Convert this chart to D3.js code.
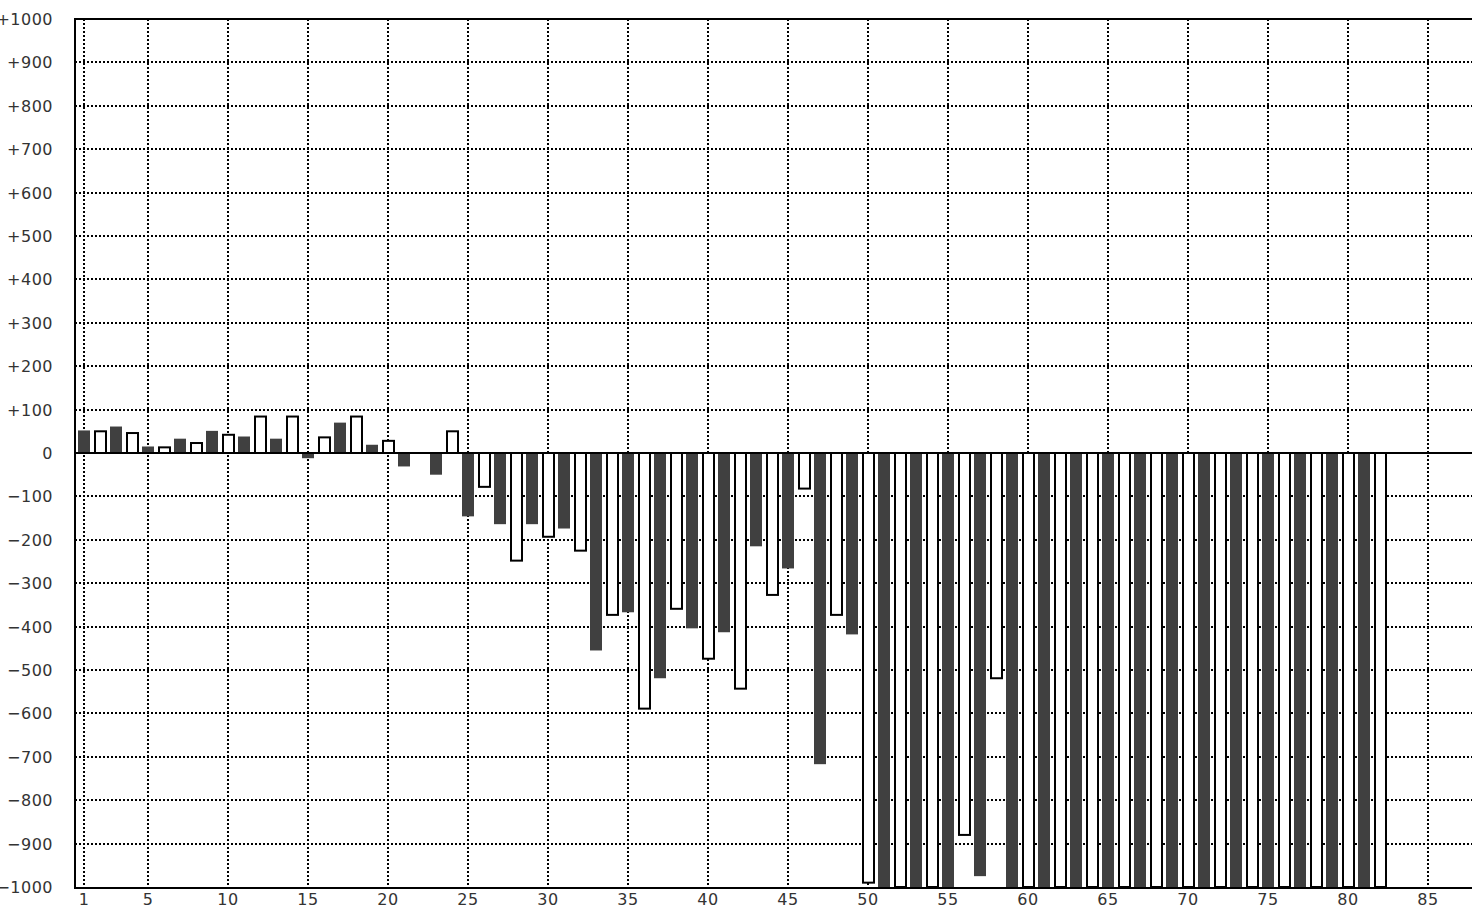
<!DOCTYPE html>
<html>
<head>
<meta charset="utf-8">
<script src="https://cdn.jsdelivr.net/npm/d3@7"></script>
<style>
  html, body { margin: 0; padding: 0; background: #fff; overflow: hidden; }
  svg { display: block; }
  text { font-family: "DejaVu Sans", sans-serif; font-size: 16px; fill: #333; letter-spacing: 0.5px; }
</style>
</head>
<body>
<svg id="chart" width="1472" height="910"></svg>
<script>
// ---- data ----
const categories = d3.range(1, 83); // 1..82
const values = [
  52, 50, 61, 46, 15, 13, 33, 23, 51, 42,
  38, 84, 33, 84, -12, 36, 70, 84, 19, 28,
  -31, 0, -50, 50, -146, -78, -164, -248, -164, -193,
  -174, -225, -455, -373, -367, -589, -519, -359, -404, -474,
  -413, -543, -215, -327, -266, -82, -717, -373, -418, -990,
  -1000, -1000, -1000, -1000, -1000, -880, -975, -519, -1000, -1000,
  -1000, -1000, -1000, -1000, -1000, -1000, -1000, -1000, -1000, -1000,
  -1000, -1000, -1000, -1000, -1000, -1000, -1000, -1000, -1000, -1000,
  -1000, -1000
];
const xTickValues = [1, 5, 10, 15, 20, 25, 30, 35, 40, 45, 50, 55, 60, 65, 70, 75, 80, 85];
const yTickValues = d3.range(-1000, 1001, 100);
const yTickLabels = yTickValues.map(v => v > 0 ? "+" + v : (v < 0 ? "\u2212" + Math.abs(v) : "0"));

(function () {
// ---- layout ----
const svg = d3.select("#chart");
const pLeft = 75, pRight = 1480, pTop = 19, pBottom = 887;
const x = d3.scaleLinear().domain([0.4375, 88.25]).range([pLeft, pRight]);
const y = d3.scaleLinear().domain([-1000, 1000]).range([pBottom, pTop]);

svg.append("defs").append("clipPath").attr("id", "plot")
  .append("rect").attr("x", pLeft).attr("y", pTop).attr("width", pRight - pLeft).attr("height", pBottom - pTop);

// grid
const grid = svg.append("g").attr("stroke", "#000").attr("stroke-width", 2).attr("stroke-dasharray", "2,2");
grid.selectAll("line.h").data(yTickValues.filter(v => v > -1000 && v < 1000 && v !== 0)).enter()
  .append("line").attr("class", "h")
  .attr("x1", pLeft).attr("x2", pRight)
  .attr("y1", d => Math.round(y(d))).attr("y2", d => Math.round(y(d)));
grid.selectAll("line.v").data(xTickValues).enter()
  .append("line").attr("class", "v")
  .attr("x1", d => x(d)).attr("x2", d => x(d))
  .attr("y1", pTop).attr("y2", pBottom);

// bars
const bars = svg.append("g").attr("clip-path", "url(#plot)");
const data = categories.map((c, i) => ({ c, v: values[i], dark: c % 2 === 1 }));
bars.selectAll("rect.dark").data(data.filter(d => d.dark && d.v !== 0)).enter()
  .append("rect").attr("class", "dark")
  .attr("x", d => x(d.c) - 6).attr("width", 12)
  .attr("y", d => Math.min(y(d.v), y(0))).attr("height", d => Math.abs(y(d.v) - y(0)))
  .attr("fill", "#404040");
bars.selectAll("rect.hollow").data(data.filter(d => !d.dark && d.v !== 0)).enter()
  .append("rect").attr("class", "hollow")
  .attr("x", d => x(d.c) - 5).attr("width", 11)
  .attr("y", d => Math.min(y(d.v), y(0))).attr("height", d => Math.abs(y(d.v) - y(0)))
  .attr("fill", "#fff").attr("stroke", "#000").attr("stroke-width", 2);

// zero line
svg.append("line").attr("x1", pLeft).attr("x2", pRight)
  .attr("y1", y(0)).attr("y2", y(0)).attr("stroke", "#000").attr("stroke-width", 2);

// frame: top, left, bottom
svg.append("path")
  .attr("d", `M${pRight},${pTop}H${pLeft}V${pBottom + 1}H${pRight}`)
  .attr("fill", "none").attr("stroke", "#000").attr("stroke-width", 2);

// y labels
svg.append("g").selectAll("text").data(yTickValues).enter()
  .append("text")
  .attr("x", 53).attr("y", d => y(d) + 6)
  .attr("text-anchor", "end")
  .text((d, i) => yTickLabels[i]);

// x labels
svg.append("g").selectAll("text").data(xTickValues).enter()
  .append("text")
  .attr("x", d => x(d)).attr("y", 905)
  .attr("text-anchor", "middle")
  .text(d => d);
})();
</script>
</body>
</html>
